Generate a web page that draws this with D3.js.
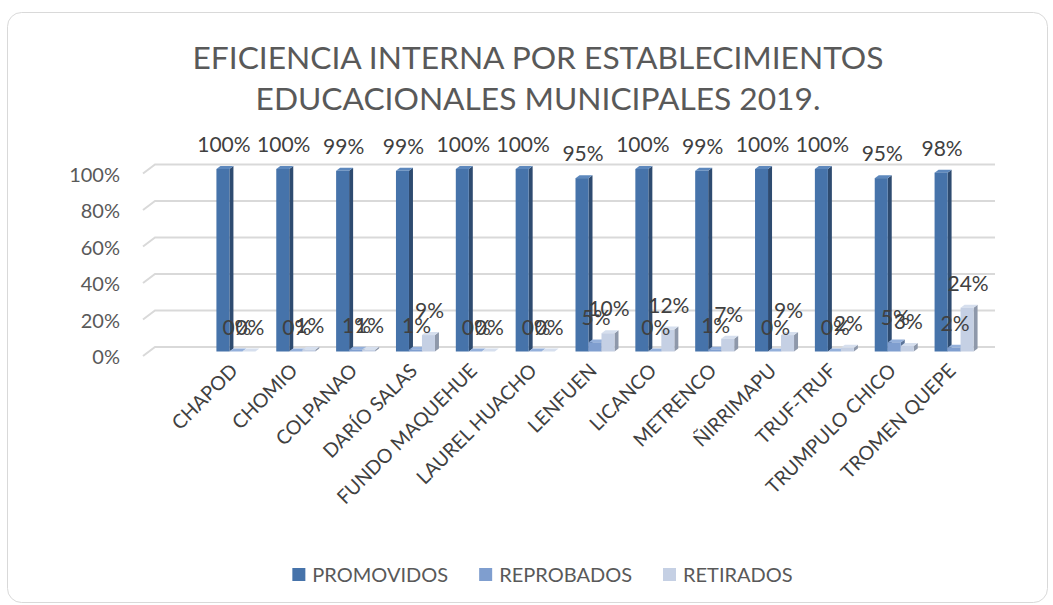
<!DOCTYPE html>
<meta charset="utf-8">
<style>
  body { margin: 0; background: #fff; }
  text { font-family: Lato, "Open Sans", sans-serif; fill: #595959; }
  .title { font-size: 32px; font-weight: 400; text-anchor: middle; }
  .tick { font-size: 20px; text-anchor: end; }
  .cat { font-size: 19.5px; text-anchor: end; fill: #404040; }
  .lbl { font-size: 21px; text-anchor: middle; fill: #404040; }
  .leg { font-size: 20px; }
</style>
<body>
<script src="https://d3js.org/d3.v7.min.js"></script>
<script>

var width = 1053,
    height = 605;

var schools = ["CHAPOD","CHOMIO","COLPANAO","DARÍO SALAS","FUNDO MAQUEHUE","LAUREL HUACHO",
  "LENFUEN","LICANCO","METRENCO","ÑIRRIMAPU","TRUF-TRUF","TRUMPULO CHICO","TROMEN QUEPE"];
var promovidos = [100,100,99,99,100,100,95,100,99,100,100,95,98];
var reprobados = [0,0,1,1,0,0,5,0,1,0,0,5,2];
var retirados  = [0,1,1,9,0,0,10,12,7,9,2,3,24];
var seriesNames = ["PROMOVIDOS","REPROBADOS","RETIRADOS"];
var yTicks = [0,20,40,60,80,100];

var colors = [
  {front:"#4673aa", side:"#2e4b70", top:"#5d88bd"},
  {front:"#7f9ecf", side:"#5b7398", top:"#94b0db"},
  {front:"#c5d0e4", side:"#8e98aa", top:"#d6dfee"}
];

var svg = d3.select("body").append("svg")
  .attr("width",width)
  .attr("height",height);

svg.append("rect")
  .attr("x",7.5).attr("y",12.5)
  .attr("width",1040).attr("height",590)
  .attr("rx",14)
  .style("fill","#fff")
  .style("stroke","#d9d9d9");

var titles = svg.selectAll("text.title")
  .data(["EFICIENCIA INTERNA POR ESTABLECIMIENTOS","EDUCACIONALES MUNICIPALES 2019."])
  .enter().append("text")
    .attr("class","title")
    .attr("x",538)
    .attr("y",function(d,i){ return 69 + i*41; })
    .text(function(d){ return d; });

// fit the first title line to the width it has in the original
var tw = titles.node().getComputedTextLength();
titles.style("font-size",(32*691/tw) + "px");

var y = d3.scaleLinear().domain([0,100]).range([351.5,169]);
var x = d3.scaleBand().domain(schools).range([206,984]);
var barW = 13, dx = 4, dy = 3;
var x1 = d3.scaleBand().domain(seriesNames).range([0,barW*3]);

// back wall gridlines with a short slanted floor edge
var grid = svg.append("g");
yTicks.forEach(function(t){
  var gy = y(t) - 4.5;
  grid.append("path")
    .attr("d","M143," + (gy+9) + "L155," + gy + "H995")
    .style("fill","none")
    .style("stroke","#d9d9d9")
    .style("stroke-width",2);
  grid.append("text").attr("class","tick")
    .attr("x",120).attr("y",gy+10)
    .attr("dy","0.35em")
    .text(t + "%");
});

var data = [promovidos,reprobados,retirados];

var groups = svg.selectAll("g.school")
  .data(schools)
  .enter().append("g")
    .attr("class","school")
    .attr("transform",function(d){
      return "translate(" + (x(d) + (x.bandwidth() - barW*3)/2) + ",0)";
    });

groups.each(function(s,i){
  var g = d3.select(this);
  seriesNames.forEach(function(n,k){
    var v = data[k][i],
        x0 = x1(n),
        top = y(v),
        bot = y(0),
        c = colors[k];
    g.append("path")
      .attr("d","M"+(x0+barW)+","+top+"L"+(x0+barW+dx)+","+(top-dy)+"L"+(x0+barW+dx)+","+(bot-dy)+"L"+(x0+barW)+","+bot+"Z")
      .style("fill",c.side);
    g.append("path")
      .attr("d","M"+x0+","+top+"L"+(x0+dx)+","+(top-dy)+"L"+(x0+barW+dx)+","+(top-dy)+"L"+(x0+barW)+","+top+"Z")
      .style("fill",c.top);
    g.append("rect")
      .attr("x",x0).attr("y",top)
      .attr("width",barW).attr("height",bot-top)
      .style("fill",c.front);
  });
});

// data labels drawn last, they overlap each other like in the original
groups.each(function(s,i){
  var g = d3.select(this);
  seriesNames.forEach(function(n,k){
    var v = data[k][i];
    g.append("text").attr("class","lbl")
      .attr("x",x1(n) + barW/2 + 1)
      .attr("y",y(v) - 17)
      .text(v + "%");
  });
});

groups.append("text").attr("class","cat")
  .attr("transform","translate(" + (barW*1.5 + 3) + ",372) rotate(-45)")
  .text(function(d){ return d; });

// legend, laid out from measured text widths and centred
var leg = svg.append("g");
var items = leg.selectAll("g")
  .data(seriesNames)
  .enter().append("g");
items.append("rect")
  .attr("width",13).attr("height",13)
  .attr("y",-7)
  .style("fill",function(d,i){ return colors[i].front; });
items.append("text").attr("class","leg")
  .attr("x",20).attr("dy","0.35em")
  .text(function(d){ return d; });
var pos = 0;
items.each(function(){
  var w = d3.select(this).select("text").node().getComputedTextLength();
  d3.select(this).attr("transform","translate(" + pos + ",0)");
  pos += 20 + w + 31;
});
pos -= 31;
leg.attr("transform","translate(" + (542.5 - pos/2) + ",575)");

</script>
